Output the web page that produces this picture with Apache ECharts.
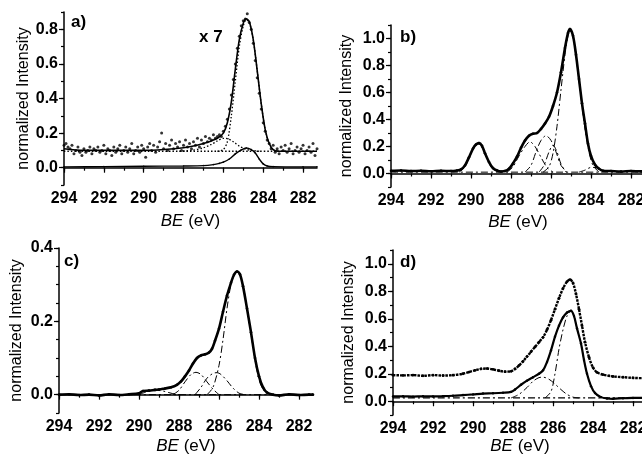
<!DOCTYPE html>
<html>
<head>
<meta charset="utf-8">
<script src="https://cdn.jsdelivr.net/npm/echarts@6/dist/echarts.min.js"></script>
<style>
  html, body { margin: 0; padding: 0; background: #fff; }
  #chart { width: 642px; height: 459px; }
</style>
</head>
<body>
<div id="chart"></div>
<script>
// binding energy axis (eV), shared by the four panels
const xMajorTicks = [294, 292, 290, 288, 286, 284, 282];
const xMinorTicks = [294, 293, 292, 291, 290, 289, 288, 287, 286, 285, 284, 283, 282];

const aYMajor = [0, 0.2, 0.4, 0.6, 0.8];
const aYMinor = [-0.1, 0, 0.1, 0.2, 0.3, 0.4, 0.5, 0.6, 0.7, 0.8, 0.9];
const bYMajor = [0, 0.2, 0.4, 0.6, 0.8, 1.0];
const bYMinor = [-0.1, 0, 0.1, 0.2, 0.3, 0.4, 0.5, 0.6, 0.7, 0.8, 0.9, 1.0, 1.1];
const cYMajor = [0, 0.2, 0.4];
const cYMinor = [-0.05, 0, 0.05, 0.1, 0.15, 0.2, 0.25, 0.3, 0.35, 0.4];

// panel a) raw points (x 7), one value every 0.1 eV starting at 294.0
const aRawStart = 294.0;
const aRawStep = 0.1;
const aRaw = [
  0.13, 0.14, 0.12, 0.11, 0.13, 0.08, 0.10, 0.12, 0.09, 0.07, // 294.0
  0.11, 0.09, 0.10, 0.12, 0.08, 0.11, 0.10, 0.12, 0.09, 0.10, // 293.0
  0.13, 0.08, 0.11, 0.10, 0.07, 0.12, 0.09, 0.11, 0.13, 0.08, // 292.0
  0.10, 0.12, 0.09, 0.11, 0.14, 0.08, 0.10, 0.12, 0.09, 0.13, // 291.0
  0.11, 0.06, 0.12, 0.14, 0.10, 0.13, 0.09, 0.12, 0.15, 0.20, // 290.0
  0.11, 0.14, 0.10, 0.13, 0.16, 0.11, 0.14, 0.12, 0.15, 0.10, // 289.0
  0.13, 0.16, 0.12, 0.14, 0.11, 0.15, 0.13, 0.17, 0.12, 0.16, // 288.0
  0.14, 0.18, 0.15, 0.17, 0.16, 0.19, 0.17, 0.18, 0.19, 0.18, // 287.0
  0.21, 0.24, 0.28, 0.34, 0.42, 0.51, 0.60, 0.69, 0.76, 0.82, // 286.0
  0.85, 0.86, 0.89, 0.84, 0.80, 0.72, 0.62, 0.52, 0.43, 0.34, // 285.0
  0.26, 0.21, 0.16, 0.14, 0.11, 0.13, 0.09, 0.11, 0.08, 0.12, // 284.0
  0.10, 0.13, 0.09, 0.11, 0.14, 0.08, 0.10, 0.12, 0.09, 0.11, // 283.0
  0.13, 0.08, 0.10, 0.12, 0.09, 0.14, 0.07, 0.11, 0.10, 0.12  // 282.0
];
const aFit = [[294,0.11],[293,0.10],[292,0.10],[291,0.10],[290,0.10],[289,0.105],[288,0.115],[287.5,0.125],
  [287,0.14],[286.6,0.155],[286.3,0.17],[286.0,0.2],[285.8,0.26],[285.6,0.38],[285.4,0.57],[285.2,0.74],
  [285.0,0.835],[284.85,0.86],[284.7,0.845],[284.5,0.74],[284.3,0.56],[284.1,0.37],[283.9,0.22],[283.7,0.14],
  [283.5,0.105],[283.2,0.095],[282,0.095],[281.3,0.095]];
const aBase = [[294,0.095],[281.3,0.095]];
const aShoulder = [[288.2,0.095],[287.6,0.1],[287.0,0.115],[286.6,0.135],[286.3,0.155],[286.0,0.17],[285.8,0.168],
  [285.5,0.15],[285.2,0.125],[284.9,0.108],[284.6,0.1],[284.2,0.095]];
const aMain = [[286.3,0.095],[286.0,0.105],[285.8,0.15],[285.6,0.3],[285.4,0.5],[285.2,0.7],[285.0,0.82],
  [284.85,0.855],[284.7,0.84],[284.5,0.74],[284.3,0.56],[284.1,0.37],[283.9,0.22],[283.7,0.14],[283.5,0.105],[283.2,0.095]];
const aLow = [[294,0.005],[292,0.006],[290,0.008],[288,0.01],[287,0.012],[286.5,0.018],[286.2,0.025],[286.0,0.032],
  [285.7,0.05],[285.4,0.08],[285.1,0.103],[284.85,0.114],[284.6,0.105],[284.4,0.085],[284.2,0.05],[284.0,0.022],
  [283.8,0.01],[283.5,0.006],[282,0.005],[281.3,0.005]];

// panel b)
const bData = [[294,0.02],[293.5,0.022],[293,0.018],[292.5,0.02],[292,0.017],[291.5,0.02],[291,0.018],[290.7,0.022],
  [290.5,0.03],[290.3,0.06],[290.1,0.12],[289.9,0.185],[289.75,0.215],[289.6,0.225],[289.45,0.205],[289.3,0.15],
  [289.1,0.085],[288.9,0.04],[288.7,0.022],[288.5,0.015],[288.3,0.018],[288.1,0.035],[287.9,0.075],[287.7,0.125],
  [287.5,0.19],[287.3,0.245],[287.1,0.28],[286.9,0.295],[286.7,0.30],[286.5,0.33],[286.3,0.37],[286.1,0.42],
  [285.9,0.5],[285.7,0.6],[285.5,0.75],[285.3,0.93],[285.15,1.04],[285.05,1.07],[284.9,1.02],[284.75,0.88],
  [284.6,0.7],[284.45,0.52],[284.3,0.37],[284.15,0.22],[284.0,0.13],[283.8,0.065],[283.6,0.035],[283.4,0.02],
  [283,0.018],[282.5,0.015],[282,0.018],[281.5,0.016],[281.3,0.017]];
const bBase = [[294,0.01],[281.3,0.01]];
const bPeak1 = [[290.6,0.01],[290.3,0.05],[290.1,0.11],[289.9,0.18],[289.65,0.222],[289.4,0.18],[289.2,0.11],[289.0,0.05],[288.7,0.01]];
const bPeak2 = [[288.2,0.01],[287.9,0.05],[287.6,0.13],[287.3,0.2],[287.05,0.235],[286.8,0.2],[286.5,0.12],[286.2,0.045],[285.9,0.01]];
const bPeak3 = [[287.3,0.01],[287.0,0.06],[286.75,0.16],[286.5,0.245],[286.25,0.28],[286.0,0.245],[285.75,0.16],[285.5,0.06],[285.2,0.01]];
const bPeak4 = [[286.6,0.01],[286.35,0.06],[286.1,0.16],[285.9,0.21],[285.7,0.16],[285.5,0.07],[285.25,0.01]];
const bPeak5 = [[286.4,0.01],[286.1,0.05],[285.9,0.15],[285.7,0.35],[285.5,0.62],[285.3,0.88],[285.15,1.02],[285.05,1.055],
  [284.9,1.01],[284.75,0.87],[284.6,0.69],[284.45,0.5],[284.3,0.33],[284.1,0.16],[283.9,0.06],[283.6,0.01]];
const bPeak6 = [[284.6,0.01],[284.3,0.025],[284.0,0.045],[283.8,0.045],[283.5,0.025],[283.2,0.01]];

// panel c)
const cData = [[294,0.0],[293.5,0.001],[293,-0.001],[292.5,0.0],[292,-0.002],[291.5,0.001],[291,-0.001],[290.5,0.001],
  [290,0.004],[289.8,0.01],[289.5,0.011],[289.2,0.013],[289,0.014],[288.7,0.017],[288.4,0.02],[288.1,0.027],
  [287.9,0.036],[287.7,0.05],[287.5,0.066],[287.3,0.085],[287.1,0.1],[286.9,0.107],[286.7,0.11],[286.5,0.115],
  [286.35,0.125],[286.2,0.147],[286.0,0.18],[285.8,0.226],[285.6,0.27],[285.4,0.305],[285.25,0.327],[285.1,0.336],
  [284.95,0.328],[284.8,0.296],[284.6,0.235],[284.4,0.17],[284.2,0.1],[284.0,0.05],[283.8,0.02],[283.6,0.006],
  [283.3,0.0],[283,-0.002],[282.5,0.001],[282,-0.001],[281.5,0.0],[281.3,0.0]];
const cBase = [[294,0.0],[281.3,0.0]];
const cPeak1 = [[290,0.0],[289.6,0.008],[289.2,0.012],[288.8,0.01],[288.4,0.004],[288,0.0]];
const cPeak2 = [[288.3,0.0],[288.0,0.012],[287.7,0.035],[287.4,0.055],[287.15,0.061],[286.9,0.055],[286.6,0.035],[286.3,0.015],[286.0,0.0]];
const cPeak3 = [[287.2,0.0],[286.9,0.02],[286.6,0.045],[286.3,0.058],[286.1,0.06],[285.9,0.055],[285.6,0.038],[285.3,0.018],[285.0,0.004],[284.7,0.0]];
const cPeak4 = [[286.6,0.0],[286.3,0.02],[286.0,0.08],[285.8,0.15],[285.6,0.235],[285.4,0.3],[285.2,0.33],[285.05,0.334],
  [284.9,0.32],[284.7,0.27],[284.5,0.2],[284.3,0.13],[284.1,0.065],[283.9,0.025],[283.6,0.0]];

// panel d)
const dUpper = [[294,0.19],[293.5,0.188],[293,0.19],[292.5,0.185],[292,0.19],[291.5,0.187],[291,0.19],[290.5,0.2],
  [290.2,0.212],[289.9,0.225],[289.6,0.235],[289.3,0.238],[289,0.232],[288.7,0.222],[288.4,0.215],[288.1,0.218],
  [287.9,0.235],[287.7,0.26],[287.5,0.29],[287.3,0.325],[287.1,0.36],[286.9,0.395],[286.7,0.43],[286.5,0.465],
  [286.3,0.52],[286.1,0.59],[285.9,0.67],[285.7,0.75],[285.5,0.82],[285.3,0.87],[285.15,0.885],[285.0,0.86],
  [284.85,0.78],[284.7,0.67],[284.55,0.55],[284.4,0.43],[284.2,0.32],[284.0,0.245],[283.8,0.21],[283.5,0.193],
  [283.2,0.185],[283,0.18],[282.5,0.175],[282,0.17],[281.5,0.168],[281.3,0.168]];
const dLower = [[294,0.035],[293.5,0.036],[293,0.034],[292.5,0.036],[292,0.035],[291.5,0.037],[291,0.04],[290.5,0.045],
  [290,0.05],[289.5,0.056],[289,0.058],[288.5,0.062],[288.1,0.068],[287.9,0.085],[287.6,0.12],[287.3,0.15],
  [287.0,0.175],[286.7,0.2],[286.5,0.225],[286.3,0.285],[286.1,0.37],[285.9,0.47],[285.7,0.55],[285.5,0.61],
  [285.3,0.645],[285.1,0.658],[284.95,0.62],[284.8,0.53],[284.6,0.42],[284.45,0.3],[284.3,0.2],[284.1,0.11],
  [283.9,0.06],[283.6,0.03],[283.3,0.02],[283,0.018],[282.5,0.022],[282,0.024],[281.5,0.025],[281.3,0.025]];
const dBase = [[294,0.024],[281.3,0.024]];
const dPeak1 = [[288.1,0.024],[287.7,0.05],[287.3,0.1],[287.0,0.145],[286.7,0.172],[286.5,0.175],[286.2,0.16],
  [285.9,0.125],[285.6,0.085],[285.3,0.05],[285.0,0.03],[284.7,0.024]];
const dPeak2 = [[286.4,0.024],[286.1,0.07],[285.9,0.2],[285.7,0.38],[285.5,0.52],[285.3,0.62],[285.1,0.655],
  [284.95,0.62],[284.8,0.53],[284.6,0.42],[284.45,0.3],[284.3,0.2],[284.1,0.11],[283.9,0.055],[283.6,0.024]];

const FONT = '"Liberation Sans", Arial, sans-serif';
const INK = '#000';

const panels = [
  { grid: { left: 64, top: 12, width: 253, height: 173 }, y: [-0.1, 0.9], major: aYMajor, minor: aYMinor, yGap: 31, xGap: 28 },
  { grid: { left: 391, top: 25, width: 254, height: 162 }, y: [-0.1, 1.1], major: bYMajor, minor: bYMinor, yGap: 36, xGap: 27 },
  { grid: { left: 59, top: 248, width: 254, height: 165 }, y: [-0.05, 0.4], major: cYMajor, minor: cYMinor, yGap: 34, xGap: 25 },
  { grid: { left: 393, top: 250, width: 254, height: 165 }, y: [-0.1, 1.1], major: bYMajor, minor: bYMinor, yGap: 36, xGap: 22 }
];

const xAxes = [];
const yAxes = [];
panels.forEach((p, i) => {
  xAxes.push({
    type: 'value', gridIndex: i, position: 'bottom', min: 281.3, max: 294, inverse: true,
    name: '{it|BE} (eV)', nameLocation: 'middle', nameGap: p.xGap,
    nameTextStyle: { color: INK, fontFamily: FONT, fontSize: 17, verticalAlign: 'top',
      rich: { it: { fontStyle: 'italic', fontFamily: FONT, fontSize: 17, color: INK } } },
    axisLine: { lineStyle: { color: INK, width: 1.5 } },
    axisTick: { customValues: xMinorTicks, length: 3, lineStyle: { color: INK, width: 1.2 } },
    axisLabel: { customValues: xMajorTicks, margin: 6, hideOverlap: false, color: INK, fontFamily: FONT, fontWeight: 'bold', fontSize: 16 },
    splitLine: { show: false }
  });
  xAxes.push({
    type: 'value', gridIndex: i, position: 'bottom', min: 281.3, max: 294, inverse: true,
    axisLine: { show: false },
    axisTick: { customValues: xMajorTicks, length: 5, lineStyle: { color: INK, width: 1.2 } },
    axisLabel: { show: false }, splitLine: { show: false }
  });
  yAxes.push({
    type: 'value', gridIndex: i, position: 'left', min: p.y[0], max: p.y[1],
    name: 'normalized Intensity', nameLocation: 'middle', nameGap: p.yGap,
    nameTextStyle: { color: INK, fontFamily: FONT, fontSize: 16 },
    axisLine: { show: true, lineStyle: { color: INK, width: 1.5 } },
    axisTick: { show: true, customValues: p.minor, length: 3, lineStyle: { color: INK, width: 1.2 } },
    axisLabel: { customValues: p.major, margin: 6, color: INK, fontFamily: FONT, fontWeight: 'bold', fontSize: 16,
      formatter: v => v.toFixed(1) },
    splitLine: { show: false }
  });
  yAxes.push({
    type: 'value', gridIndex: i, position: 'left', min: p.y[0], max: p.y[1],
    axisLine: { show: false },
    axisTick: { show: true, customValues: p.major, length: 5, lineStyle: { color: INK, width: 1.2 } },
    axisLabel: { show: false }, splitLine: { show: false }
  });
});

const DASHDOT = [7, 3, 2, 3];
const DOTTED = [1.5, 2];

function line(panel, data, width, type, symbolSize) {
  return {
    type: 'line', xAxisIndex: panel * 2, yAxisIndex: panel * 2, data: data,
    smooth: 0.3, silent: true,
    showSymbol: !!symbolSize, symbol: 'circle', symbolSize: symbolSize || 0,
    itemStyle: { color: INK },
    lineStyle: { color: INK, width: width, type: type || 'solid' }
  };
}

const aRawPoints = aRaw.map((v, k) => [aRawStart - k * aRawStep, v]);

const series = [
  // a)
  { type: 'scatter', xAxisIndex: 0, yAxisIndex: 0, data: aRawPoints, symbolSize: 3, itemStyle: { color: INK }, silent: true },
  line(0, aBase, 1.3, DOTTED),
  line(0, aShoulder, 1.3, DOTTED),
  line(0, aMain, 1.3, DOTTED),
  line(0, aFit, 1.6),
  line(0, aLow, 1.4, 'solid', 1.6),
  // b)
  line(1, bBase, 1, DASHDOT),
  line(1, bPeak1, 1, DASHDOT),
  line(1, bPeak2, 1, DASHDOT),
  line(1, bPeak3, 1, DASHDOT),
  line(1, bPeak4, 1, DASHDOT),
  line(1, bPeak5, 1, DASHDOT),
  line(1, bPeak6, 1, DASHDOT),
  line(1, bData, 2.6, 'solid', 2.6),
  // c)
  line(2, cBase, 1, DASHDOT),
  line(2, cPeak1, 1, DASHDOT),
  line(2, cPeak2, 1, DASHDOT),
  line(2, cPeak3, 1, DASHDOT),
  line(2, cPeak4, 1, DASHDOT),
  line(2, cData, 2.6, 'solid', 2.6),
  // d)
  line(3, dBase, 1.2, DASHDOT),
  line(3, dPeak1, 1, DASHDOT),
  line(3, dPeak2, 1, DASHDOT),
  line(3, dUpper, 2.4, [2.5, 1], 2.8),
  line(3, dLower, 2.2, 'solid', 2.4)
];

const titleStyle = { color: INK, fontFamily: FONT, fontWeight: 'bold', fontSize: 17 };

const chart = echarts.init(document.getElementById('chart'));
chart.setOption({
  animation: false,
  backgroundColor: '#fff',
  title: [
    { text: 'a)', left: 71, top: 14, textStyle: titleStyle, padding: 0 },
    { text: 'x 7', left: 199, top: 29, textStyle: titleStyle, padding: 0 },
    { text: 'b)', left: 400, top: 29, textStyle: titleStyle, padding: 0 },
    { text: 'c)', left: 64, top: 253, textStyle: titleStyle, padding: 0 },
    { text: 'd)', left: 400, top: 254, textStyle: titleStyle, padding: 0 }
  ],
  grid: panels.map(p => Object.assign({ containLabel: false, outerBoundsMode: 'none' }, p.grid)),
  xAxis: xAxes,
  yAxis: yAxes,
  series: series
});
</script>
</body>
</html>
